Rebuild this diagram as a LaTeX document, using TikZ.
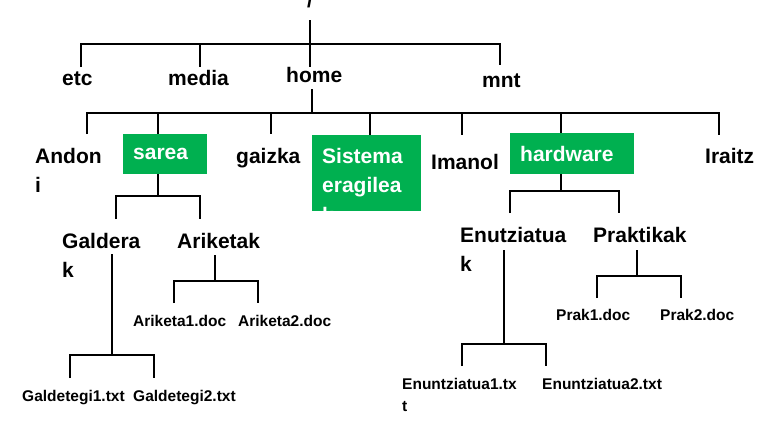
\documentclass[tikz,border=0pt]{standalone}
\usepackage{fontspec}
\setmainfont{Liberation Sans}
\usetikzlibrary{positioning}
\definecolor{dirgreen}{HTML}{00B050}

\begin{document}
\begin{tikzpicture}[x=1pt, y=-1pt,
    dir/.style={anchor=base west, inner sep=0pt, align=left, font=\bfseries\fontsize{21}{29.5}\selectfont},
    file/.style={anchor=base west, inner sep=0pt, align=left, font=\bfseries\fontsize{15.5}{22}\selectfont},
    box/.style={anchor=north west, fill=dirgreen, text=white, inner xsep=10pt, inner ysep=0pt, align=left, font=\bfseries\fontsize{21}{29.5}\selectfont},
    branch/.style={line width=2pt, black},
]
    \useasboundingbox (0,0) rectangle (765,426);

    % Row 1: root and its children (multi-line nodes sit on their last baseline)
    \node[dir] (root)  at (307,7)  {/};
    \node[dir] (etc)   at (62,85)  {etc};
    \node[dir] (media) at (168,85) {media};
    \node[dir] (home)  at (286,82) {home};
    \node[dir] (mnt)   at (482,87) {mnt};

    % Row 2: users under home
    \node[dir] (andoni) at (35,192.5) {Andon\\i};
    \node[box, minimum width=84pt, minimum height=40pt, text width=64pt] (sarea) at (123,134) {sarea};
    \node[dir] (gaizka) at (236,163) {gaizka};
    \node[box, minimum width=109pt, minimum height=76pt] (sistema) at (312,135) {};
    \begin{scope}
        \clip (sistema.south west) rectangle (sistema.north east);
        \node[dir, text=white] (sistematext) at (322,222) {Sistema\\eragilea\\k};
    \end{scope}
    \node[dir] (imanol) at (431,169) {Imanol};
    \node[box, minimum width=124pt, minimum height=41pt, text width=104pt] (hardware) at (510,133) {hardware};
    \node[dir] (iraitz) at (705,163) {Iraitz};

    % Row 3: sub-folders
    \node[dir] (galderak)    at (62,277.5) {Galdera\\k};
    \node[dir] (ariketak)    at (177,248)  {Ariketak};
    \node[dir] (enutziatuak) at (460,271.5) {Enutziatua\\k};
    \node[dir] (praktikak)   at (593,242)  {Praktikak};

    % Row 4: files
    \node[file] (galdetegi1) at (22,401)  {Galdetegi1.txt};
    \node[file] (galdetegi2) at (133,401) {Galdetegi2.txt};
    \node[file] (ariketa1)   at (133,326) {Ariketa1.doc};
    \node[file] (ariketa2)   at (238,326) {Ariketa2.doc};
    \node[file] (prak1)      at (556,320) {Prak1.doc};
    \node[file] (prak2)      at (660,320) {Prak2.doc};
    \node[file] (enuntz1)    at (402,411) {Enuntziatua1.tx\\t};
    \node[file] (enuntz2)    at (542,389) {Enuntziatua2.txt};

    % Branches from root
    \draw[branch] (310,20) -- (310,67);
    \draw[branch] (81,67) -- (81,44) -- (500,44) -- (500,65);
    \draw[branch] (200,44) -- (200,67);

    % Branches from home
    \draw[branch] (312,89) -- (312,113);
    \draw[branch] (87,134) -- (87,113) -- (719,113) -- (719,135);
    \draw[branch] (158,113) -- (sarea.north -| 158,0);
    \draw[branch] (271,113) -- (271,134);
    \draw[branch] (370,113) -- (sistema.north -| 370,0);
    \draw[branch] (462,113) -- (462,135);
    \draw[branch] (561,113) -- (hardware.north -| 561,0);

    % Branches from sarea
    \draw[branch] (sarea.south -| 158,0) -- (158,196);
    \draw[branch] (116,219) -- (116,196) -- (200,196) -- (200,219);
    \draw[branch] (112,254) -- (112,355);
    \draw[branch] (70,378) -- (70,355) -- (154,355) -- (154,378);
    \draw[branch] (215,255) -- (215,281);
    \draw[branch] (174,303) -- (174,281) -- (258,281) -- (258,303);

    % Branches from hardware
    \draw[branch] (hardware.south -| 561,0) -- (561,191);
    \draw[branch] (510,213) -- (510,191) -- (619,191) -- (619,213);
    \draw[branch] (504,250) -- (504,344);
    \draw[branch] (462,366) -- (462,344) -- (546,344) -- (546,366);
    \draw[branch] (637,250) -- (637,276);
    \draw[branch] (597,298) -- (597,276) -- (681,276) -- (681,298);
\end{tikzpicture}
\end{document}
